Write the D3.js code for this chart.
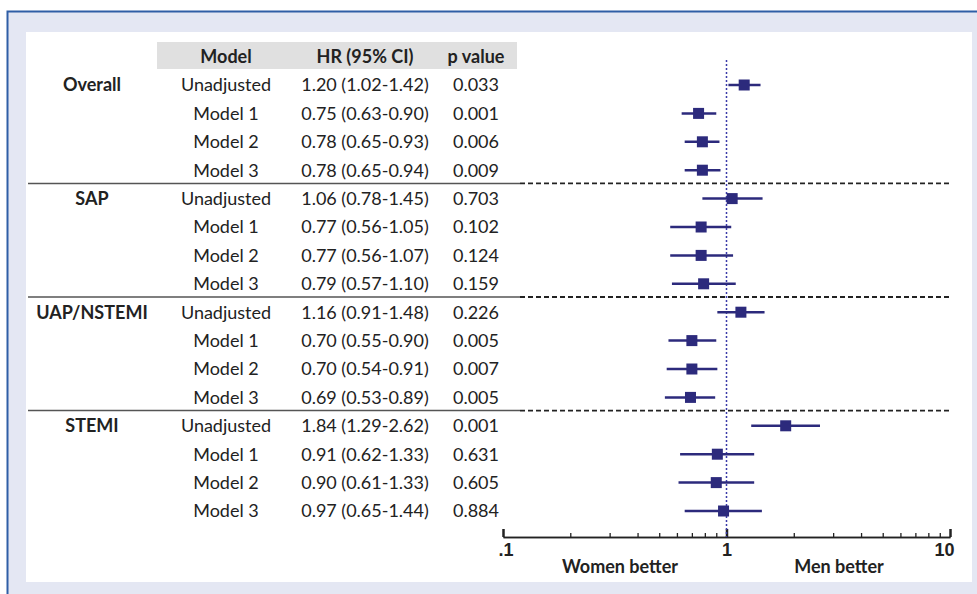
<!DOCTYPE html>
<html>
<head>
<meta charset="utf-8">
<script src="https://cdn.jsdelivr.net/npm/d3@7"></script>
<style>
  html, body { margin: 0; padding: 0; background: #fff; }
  svg { display: block; font-family: Lato, "Open Sans", sans-serif; }
  .cell { font-size: 18px; fill: #222; }
  .bold { font-weight: 700; }
</style>
</head>
<body>
<div id="chart"></div>
<script>
// Forest plot: HR of women vs men by presentation
const groups = ["Overall", "SAP", "UAP/NSTEMI", "STEMI"];
const models = ["Unadjusted", "Model 1", "Model 2", "Model 3"];
const hr = [1.20, 0.75, 0.78, 0.78, 1.06, 0.77, 0.77, 0.79, 1.16, 0.70, 0.70, 0.69, 1.84, 0.91, 0.90, 0.97];
const ciLow = [1.02, 0.63, 0.65, 0.65, 0.78, 0.56, 0.56, 0.57, 0.91, 0.55, 0.54, 0.53, 1.29, 0.62, 0.61, 0.65];
const ciHigh = [1.42, 0.90, 0.93, 0.94, 1.45, 1.05, 1.07, 1.10, 1.48, 0.90, 0.91, 0.89, 2.62, 1.33, 1.33, 1.44];
const pValues = ["0.033", "0.001", "0.006", "0.009", "0.703", "0.102", "0.124", "0.159",
                 "0.226", "0.005", "0.007", "0.005", "0.001", "0.631", "0.605", "0.884"];
const headers = ["Model", "HR (95% CI)", "p value"];
const majorTicks = [0.1, 1, 10];
const majorLabels = [".1", "1", "10"];
const minorTicks = [0.2, 0.3, 0.4, 0.5, 0.6, 0.7, 0.8, 0.9, 2, 3, 4, 5, 6, 7, 8, 9];

const rows = hr.map((d, i) => ({
  group: groups[Math.floor(i / 4)],
  first: i % 4 === 0,
  model: models[i % 4],
  hr: d, lo: ciLow[i], hi: ciHigh[i], p: pValues[i],
  text: `${d.toFixed(2)} (${ciLow[i].toFixed(2)}-${ciHigh[i].toFixed(2)})`
}));

const width = 977, height = 594;
const navy = "#2c2a7c";

const svg = d3.select("#chart").append("svg").attr("width", width).attr("height", height);

// frame
svg.append("rect").attr("x", 7).attr("y", 11).attr("width", width - 7).attr("height", height - 11)
  .attr("fill", "#e4e7f3");
svg.append("path").attr("d", `M7.5,${height} V11.5 H${width}`).attr("fill", "none")
  .attr("stroke", "#2f5ea6").attr("stroke-width", 2);
svg.append("rect").attr("x", 26).attr("y", 32).attr("width", 946).attr("height", 550).attr("fill", "#fff");

const x = d3.scaleLog().domain([0.1, 10]).range([503, 950]);
const y = d3.scalePoint().domain(d3.range(rows.length)).range([85, 511]);

const colX = { group: 92, model: 226, hr: 365, p: 476 };

// header band
svg.append("rect").attr("x", 157).attr("y", 42).attr("width", 360).attr("height", 27).attr("fill", "#e0e0e0");
svg.selectAll("text.header").data(headers).join("text")
  .attr("class", "cell bold header")
  .attr("x", (d, i) => [colX.model, colX.hr, colX.p][i])
  .attr("y", 57).attr("dy", "0.35em").attr("text-anchor", "middle")
  .text(d => d);

// table rows
const row = svg.selectAll("g.row").data(rows).join("g").attr("class", "row")
  .attr("transform", (d, i) => `translate(0,${y(i)})`);
row.filter(d => d.first).append("text").attr("class", "cell bold")
  .attr("x", colX.group).attr("dy", "0.35em").attr("text-anchor", "middle").text(d => d.group);
row.append("text").attr("class", "cell").attr("x", colX.model).attr("dy", "0.35em")
  .attr("text-anchor", "middle").text(d => d.model);
row.append("text").attr("class", "cell").attr("x", colX.hr).attr("dy", "0.35em")
  .attr("text-anchor", "middle").text(d => d.text);
row.append("text").attr("class", "cell").attr("x", colX.p).attr("dy", "0.35em")
  .attr("text-anchor", "middle").text(d => d.p);

// group separators
const sepY = [4, 8, 12].map(i => (y(i - 1) + y(i)) / 2 - 1);
svg.selectAll("line.sep-solid").data(sepY).join("line").attr("class", "sep-solid")
  .attr("x1", 28).attr("x2", 520).attr("y1", d => d).attr("y2", d => d)
  .attr("stroke", "#555").attr("stroke-width", 1.5);
svg.selectAll("line.sep-dash").data(sepY).join("line").attr("class", "sep-dash")
  .attr("x1", 520).attr("x2", 950).attr("y1", d => d).attr("y2", d => d)
  .attr("stroke", "#222").attr("stroke-width", 1.8).attr("stroke-dasharray", "5,3");

// axis
const axisY = 537;
const minorAxis = d3.axisBottom(x).tickValues(minorTicks).tickSize(-4).tickSizeOuter(0).tickFormat("");
const majorAxis = d3.axisBottom(x).tickValues(majorTicks).tickSize(-8).tickSizeOuter(0)
  .tickPadding(5).tickFormat((d, i) => majorLabels[i]);
const gMinor = svg.append("g").attr("transform", `translate(0,${axisY})`).call(minorAxis);
const gMajor = svg.append("g").attr("transform", `translate(0,${axisY})`).call(majorAxis);
[gMinor, gMajor].forEach(g => {
  g.select(".domain").attr("stroke", "#222").attr("stroke-width", 1.5);
  g.selectAll(".tick line").attr("stroke", "#222").attr("stroke-width", 1.3);
});
gMajor.selectAll(".tick line").attr("stroke-width", 2.5);
gMajor.selectAll(".tick text").attr("class", "cell bold").attr("font-family", null)
  .attr("font-size", null).attr("fill", "#222").attr("dy", "0.8em");
gMajor.select(".tick:first-of-type text").attr("text-anchor", "start").attr("dx", -5);
gMajor.select(".tick:last-of-type text").attr("text-anchor", "end").attr("dx", 4);

svg.append("text").attr("class", "cell bold").attr("x", 620).attr("y", 567).attr("dy", "0.35em")
  .attr("text-anchor", "middle").text("Women better");
svg.append("text").attr("class", "cell bold").attr("x", 839).attr("y", 567).attr("dy", "0.35em")
  .attr("text-anchor", "middle").text("Men better");

// reference line at HR = 1
svg.append("line").attr("x1", x(1)).attr("x2", x(1)).attr("y1", 60).attr("y2", axisY)
  .attr("stroke", "#3a3aa8").attr("stroke-width", 1.5).attr("stroke-dasharray", "2,2");

// CI lines and squares
const marks = svg.selectAll("g.mark").data(rows).join("g").attr("class", "mark")
  .attr("transform", (d, i) => `translate(0,${y(i)})`);
marks.append("line").attr("x1", d => x(d.lo)).attr("x2", d => x(d.hi))
  .attr("stroke", navy).attr("stroke-width", 2.5);
marks.append("rect").attr("x", d => x(d.hr) - 5.5).attr("y", -5.5)
  .attr("width", 11).attr("height", 11).attr("fill", navy);
</script>
</body>
</html>
